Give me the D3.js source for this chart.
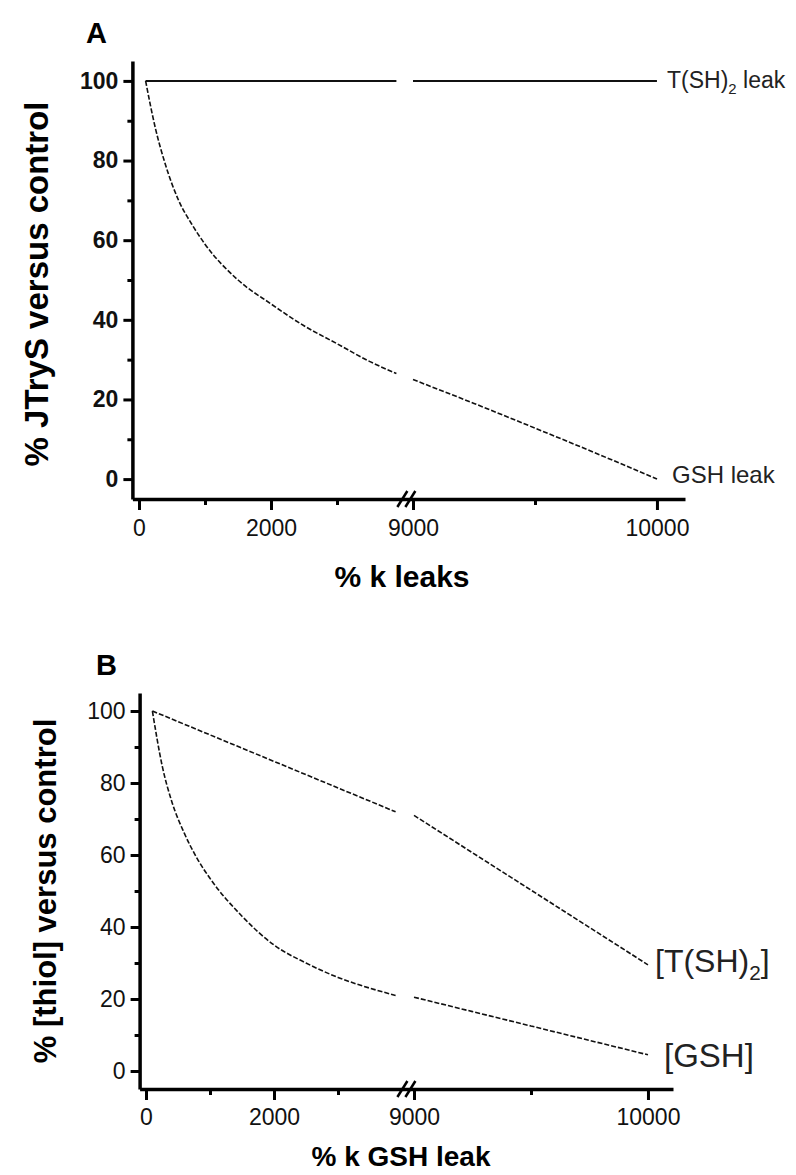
<!DOCTYPE html>
<html lang="en">
<head>
<meta charset="UTF-8" />
<title>GSH / T(SH)2 leaks</title>
<script src="https://d3js.org/d3.v7.min.js"></script>
<style>
  body { margin: 0; background: #fff; }
  svg { font-family: "Liberation Sans", Arial, sans-serif; }
  .tick text { fill: #111; }
</style>
</head>
<body>
<svg id="fig" width="796" height="1175"></svg>
<script>
  // shared ticks
  const xMajor = [0, 2000, 9000, 10000];
  const xMinor = [1000, 3000, 9500];
  const yMajor = [0, 20, 40, 60, 80, 100];
  const yMinor = [10, 30, 50, 70, 90];

  // panel A : % JTryS versus control
  const kA1 = [100, 250, 400, 600, 800, 1000, 1500, 2000, 2500, 3000, 3500, 3900];
  const gshA1 = [100, 88, 79, 70, 64, 59, 50, 44, 38.5, 34, 29.5, 26.5];
  const kA2 = [9000, 9250, 9500, 9750, 10000];
  const gshA2 = [25, 19, 12.8, 6.5, 0];
  const tshK1 = [100, 3900];
  const tshK2 = [9000, 10000];
  const tshA1 = [100, 100];
  const tshA2 = [100, 100];

  // panel B : % [thiol] versus control
  const kB1 = [100, 250, 400, 600, 800, 1000, 1500, 2000, 2500, 3000, 3500, 3900];
  const gshB1 = [100, 85, 75, 66, 59, 53.5, 43, 35, 30, 26, 23, 21];
  const kB2 = [9000, 9250, 9500, 9750, 10000];
  const gshB2 = [20.5, 16.5, 12.5, 8.5, 4.5];
  const tshB1 = [100, 72];
  const tshB2 = [71, 29.5];

  const svg = d3.select("#fig");

  function drawPanel(p) {
    const g = svg.append("g");
    const x = d3.scaleLinear().domain([-100, 3950, 9000, p.xEnd]).range(p.xRange);
    const y = d3.scaleLinear().domain([-5, 105]).range(p.yRange);

    // y axis, major then minor ticks
    const yAx = g.append("g").attr("transform", `translate(${p.xRange[0]},0)`)
      .call(d3.axisLeft(y).tickValues(yMajor).tickSize(9).tickPadding(5).tickSizeOuter(0));
    g.append("g").attr("transform", `translate(${p.xRange[0]},0)`)
      .call(d3.axisLeft(y).tickValues(yMinor).tickSize(5).tickFormat("").tickSizeOuter(0))
      .select(".domain").remove();
    yAx.selectAll("text").style("font-size", "23px").style("font-weight", p.yBold ? "bold" : "normal");

    const xAx = g.append("g").attr("transform", `translate(0,${p.yRange[0]})`)
      .call(d3.axisBottom(x).tickValues(xMajor).tickFormat(d3.format("d"))
        .tickSize(11).tickPadding(p.xPad).tickSizeOuter(0));
    g.append("g").attr("transform", `translate(0,${p.yRange[0]})`)
      .call(d3.axisBottom(x).tickValues(xMinor).tickSize(6).tickFormat("").tickSizeOuter(0))
      .select(".domain").remove();
    xAx.selectAll("text").style("font-size", "23px");

    g.selectAll(".domain").attr("stroke-width", 3.5).attr("stroke", "#000");
    g.selectAll(".tick line").attr("stroke-width", 3).attr("stroke", "#000");

    // axis break marks
    const bx = (x(3950) + x(9000)) / 2;
    [-4, 4].forEach(off => {
      g.append("line")
        .attr("x1", bx + off - 5).attr("y1", p.yRange[0] + 8)
        .attr("x2", bx + off + 5).attr("y2", p.yRange[0] - 8)
        .attr("stroke", "#000").attr("stroke-width", 2.5);
    });

    const line = d3.line().x(d => x(d[0])).y(d => y(d[1])).curve(d3.curveMonotoneX);
    p.series.forEach(s => {
      [[s.k1, s.v1], [s.k2, s.v2]].forEach(([ks, vs]) => {
        g.append("path")
          .datum(ks.map((k, i) => [k, vs[i]]))
          .attr("fill", "none")
          .attr("stroke", "#111")
          .attr("stroke-width", s.dash ? 1.6 : 2)
          .attr("stroke-dasharray", s.dash ? "5,2" : null)
          .attr("d", line);
      });
    });

    // panel letter
    g.append("text").attr("x", p.letterX).attr("y", p.letterY)
      .style("font-size", "29px").style("font-weight", "bold").text(p.letter);

    // axis titles
    g.append("text")
      .attr("transform", `translate(${p.yTitleX},${p.yTitleY}) rotate(-90)`)
      .attr("text-anchor", "middle")
      .style("font-size", p.yTitleSize).style("font-weight", "bold")
      .text(p.yTitle);
    g.append("text")
      .attr("x", p.xTitleX).attr("y", p.xTitleY)
      .attr("text-anchor", "middle")
      .style("font-size", p.xTitleSize).style("font-weight", "bold")
      .text(p.xTitle);

    return { x, y, g };
  }

  // label with an optional subscript part
  function addLabel(g, xPos, yPos, size, parts, subDrop) {
    const t = g.append("text").attr("x", xPos).attr("y", yPos)
      .style("font-size", size).style("fill", "#222");
    let down = 0;
    parts.forEach(pt => {
      if (pt.sub) {
        t.append("tspan").attr("dy", subDrop).style("font-size", "0.65em").text(pt.sub);
        down = subDrop;
      } else {
        t.append("tspan").attr("dy", -down).text(pt.t);
        down = 0;
      }
    });
  }

  const A = drawPanel({
    letter: "A", letterX: 86, letterY: 43,
    xRange: [132.4, 399.7, 413, 685], xEnd: 10115, xPad: 10,
    yRange: [499, 61], yBold: true,
    yTitle: "% JTryS versus control", yTitleX: 48, yTitleY: 284, yTitleSize: "33px",
    xTitle: "% k leaks", xTitleX: 402, xTitleY: 587, xTitleSize: "30px",
    series: [
      { k1: tshK1, v1: tshA1, k2: tshK2, v2: tshA2, dash: false },
      { k1: kA1, v1: gshA1, k2: kA2, v2: gshA2, dash: true }
    ]
  });
  addLabel(A.g, 667, 88, "23px", [{ t: "T(SH)" }, { sub: "2" }, { t: " leak" }], 6);
  addLabel(A.g, 672, 483, "24px", [{ t: "GSH leak" }], 0);

  const B = drawPanel({
    letter: "B", letterX: 96, letterY: 675,
    xRange: [139.6, 398.8, 414, 673], xEnd: 10107, xPad: 9,
    yRange: [1089, 693], yBold: false,
    yTitle: "% [thiol] versus control", yTitleX: 56, yTitleY: 891, yTitleSize: "31px",
    xTitle: "% k GSH leak", xTitleX: 401, xTitleY: 1166, xTitleSize: "28px",
    series: [
      { k1: tshK1, v1: tshB1, k2: tshK2, v2: tshB2, dash: true },
      { k1: kB1, v1: gshB1, k2: kB2, v2: gshB2, dash: true }
    ]
  });
  addLabel(B.g, 655, 972, "32px", [{ t: "[T(SH)" }, { sub: "2" }, { t: "]" }], 8);
  addLabel(B.g, 664, 1067, "33px", [{ t: "[GSH]" }], 0);
</script>
</body>
</html>
